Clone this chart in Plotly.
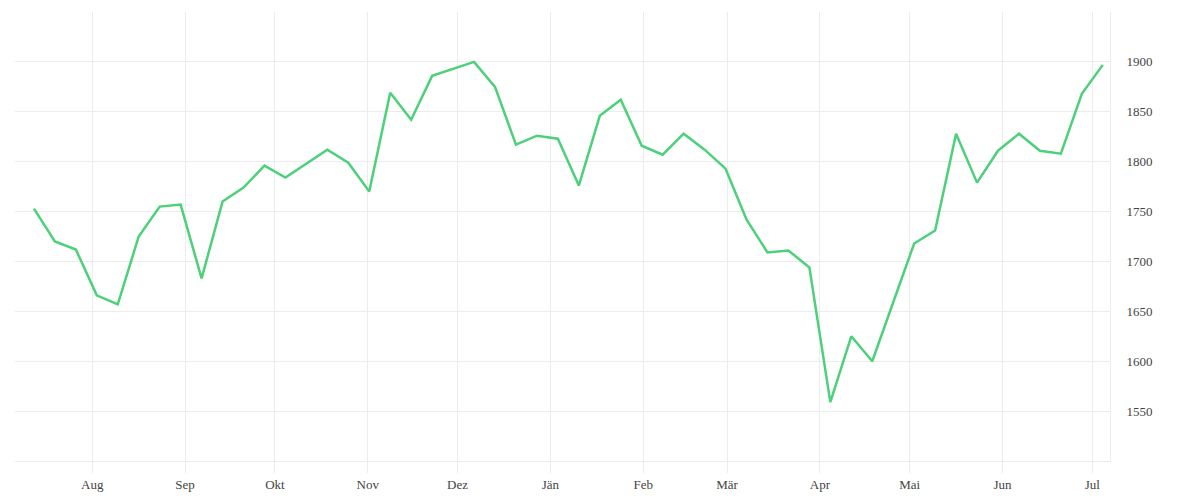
import plotly.graph_objects as go

dates = [
    "2018-07-12", "2018-07-19", "2018-07-26", "2018-08-02", "2018-08-09", "2018-08-16",
    "2018-08-23", "2018-08-30", "2018-09-06", "2018-09-13", "2018-09-20", "2018-09-27",
    "2018-10-04", "2018-10-11", "2018-10-18", "2018-10-25", "2018-11-01", "2018-11-08",
    "2018-11-15", "2018-11-22", "2018-11-29", "2018-12-06", "2018-12-13", "2018-12-20",
    "2018-12-27", "2019-01-03", "2019-01-10", "2019-01-17", "2019-01-24", "2019-01-31",
    "2019-02-07", "2019-02-14", "2019-02-21", "2019-02-28", "2019-03-07", "2019-03-14",
    "2019-03-21", "2019-03-28", "2019-04-04", "2019-04-11", "2019-04-18", "2019-04-25",
    "2019-05-02", "2019-05-09", "2019-05-16", "2019-05-23", "2019-05-30", "2019-06-06",
    "2019-06-13", "2019-06-20", "2019-06-27", "2019-07-04",
]

values = [
    1753, 1720, 1712, 1666, 1657, 1725, 1755, 1757, 1683, 1760, 1774, 1796,
    1784, 1798, 1812, 1799, 1770, 1869, 1842, 1886, 1893, 1900, 1875, 1817,
    1826, 1823, 1776, 1846, 1862, 1816, 1807, 1828, 1812, 1793, 1742, 1709,
    1711, 1694, 1559, 1625, 1600, 1659, 1718, 1731, 1828, 1779, 1811, 1828,
    1811, 1808, 1868, 1897,
]

month_ticks = [
    "2018-08-01", "2018-09-01", "2018-10-01", "2018-11-01", "2018-12-01", "2019-01-01",
    "2019-02-01", "2019-03-01", "2019-04-01", "2019-05-01", "2019-06-01", "2019-07-01",
]
month_labels = ["Aug", "Sep", "Okt", "Nov", "Dez", "Jän", "Feb", "Mär", "Apr", "Mai", "Jun", "Jul"]

y_ticks = [1550, 1600, 1650, 1700, 1750, 1800, 1850, 1900]

grid = "#ececec"
font = dict(family="Liberation Serif", size=13, color="#444444")

fig = go.Figure(
    go.Scatter(
        x=[d + " 12:00" for d in dates],
        y=values,
        mode="lines",
        line=dict(color="#4dd07a", width=2.5),
        hoverinfo="x+y",
    )
)

fig.update_layout(
    width=1200,
    height=500,
    margin=dict(l=7, r=98, t=4, b=47),
    paper_bgcolor="white",
    plot_bgcolor="white",
    showlegend=False,
    font=font,
    xaxis=dict(
        type="date",
        range=["2018-07-06 04:20", "2019-07-06 21:50"],
        tickvals=month_ticks,
        ticktext=month_labels,
        showgrid=True,
        gridcolor=grid,
        gridwidth=1,
        ticks="outside",
        ticklen=11,
        tickcolor=grid,
        tickwidth=1,
        showline=True,
        linecolor=grid,
        linewidth=1,
        zeroline=False,
        tickfont=font,
        automargin=False,
    ),
    yaxis=dict(
        side="right",
        range=[1500, 1950],
        tickvals=y_ticks,
        showgrid=True,
        gridcolor=grid,
        gridwidth=1,
        ticks="",
        showline=True,
        linecolor=grid,
        linewidth=1,
        zeroline=False,
        ticklabelstandoff=13,
        tickfont=font,
        automargin=False,
    ),
)

fig.write_html("out.html")
